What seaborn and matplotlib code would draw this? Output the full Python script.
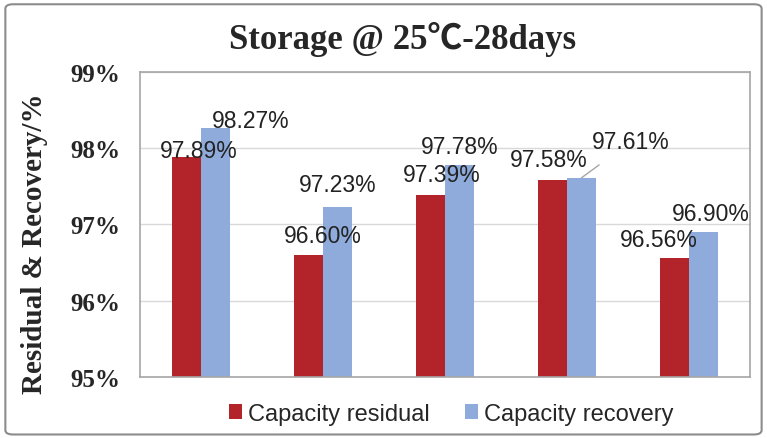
import matplotlib
matplotlib.use('Agg')
import matplotlib.pyplot as plt
from matplotlib.patches import FancyBboxPatch
import seaborn as sns
import pandas as pd

# data
groups = ['S1', 'S2', 'S3', 'S4', 'S5']
residual = [97.89, 96.60, 97.39, 97.58, 96.56]
recovery = [98.27, 97.23, 97.78, 97.61, 96.90]
series = ['Capacity residual', 'Capacity recovery']
yticks = [95, 96, 97, 98, 99]

df = pd.DataFrame({
    'group': groups * 2,
    'value': residual + recovery,
    'series': [series[0]] * len(groups) + [series[1]] * len(groups),
})

sns.set_style('white')
serif = ['Liberation Serif', 'DejaVu Serif']
sans = ['Liberation Sans', 'DejaVu Sans']
plt.rcParams['font.family'] = sans

fig = plt.figure(figsize=(7.67, 4.39), dpi=100)
ax = fig.add_axes([0.1825, 0.139, 0.7955, 0.695])

palette = {series[0]: '#B2232A', series[1]: '#8FABDB'}
sns.barplot(data=df, x='group', y='value', hue='series', palette=palette,
            width=0.47, gap=0, ax=ax, saturation=1, edgecolor='none')

# bars start from the bottom of the axis, not from 0
for bar in ax.patches:
    h = bar.get_height()
    if h > 0:
        bar.set_y(95)
        bar.set_height(h - 95)

ax.set_ylim(95, 99)
ax.set_yticks(yticks)
ax.set_yticklabels([f'{t}%' for t in yticks], family=serif, fontweight='bold', fontsize=18)
ax.set_xticks(range(len(groups)))
ax.set_xticklabels([])
ax.tick_params(axis='x', length=0)
ax.tick_params(axis='y', length=4, color='#BFBFBF', pad=10)
ax.set_xlabel('')
ax.set_ylabel('Residual & Recovery/%', family=serif, fontweight='bold', fontsize=21)
ax.yaxis.set_label_coords(-0.151, 0.44)
ax.grid(axis='y', color='#D9D9D9', linewidth=1)
ax.set_axisbelow(True)
for s in ax.spines.values():
    s.set_color('#A6A6A6')
    s.set_linewidth(1.2)

# data labels with offsets (pixels) like the Excel layout
offsets = [
    [(12, 6), (14, 19), (11, 20), (-4, 21), (-16, 18)],
    [(35, 7), (0, 22), (0, 18), (49, 36), (7, 19)],
]
vals = [residual, recovery]
for ci, cont in enumerate(ax.containers):
    for bi, bar in enumerate(cont):
        x = bar.get_x() + bar.get_width() / 2
        y = bar.get_y() + bar.get_height()
        dx, dy = offsets[ci][bi]
        props = None
        if dy > 30:
            props = dict(arrowstyle='-', color='#A6A6A6', lw=1, shrinkA=10, shrinkB=0)
        ax.annotate(f'{vals[ci][bi]:.2f}%', (x, y), xytext=(dx, dy),
                    textcoords='offset pixels', ha='center', va='center',
                    fontsize=16.5, color='#222222', arrowprops=props)

# the degree sign falls back to a CJK font, like the original
fig.suptitle('Storage @ 25℃-28days', y=0.95, fontsize=25, fontweight='bold',
             family=['Liberation Serif', 'Noto Sans CJK SC', 'DejaVu Serif'], x=0.525)

handles, labels = ax.get_legend_handles_labels()
ax.legend(handles, labels, loc='upper center', bbox_to_anchor=(0.51, -0.015),
          ncol=2, frameon=False, fontsize=17, handlelength=0.55, handleheight=0.55,
          handletextpad=0.25, columnspacing=1.5)

border = FancyBboxPatch((0.007, 0.008), 0.986, 0.98, boxstyle='round,pad=0,rounding_size=0.01',
                        transform=fig.transFigure, fill=False, edgecolor='#8C8C8C', linewidth=1.5)
fig.patches.append(border)

fig.savefig('out.png', dpi=100, facecolor='white')
